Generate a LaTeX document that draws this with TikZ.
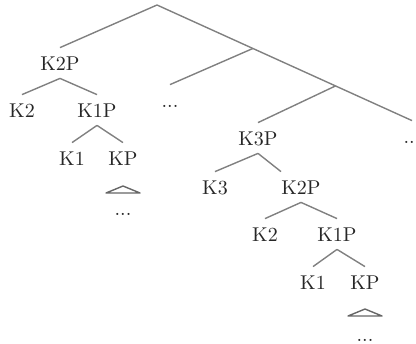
\documentclass[tikz,border=0pt]{standalone}
\usepackage{tikz}
\usetikzlibrary{calc}
\tikzstyle{cat}=[inner sep=4pt,text height=7pt,text depth=0pt,text=black!85]
\tikzstyle{branch}=[draw=black!50,line width=.7pt]
\tikzstyle{roof}=[draw=black!60,line width=.7pt,line join=round]

\begin{document}
\begin{tikzpicture}[x=.5pt,y=-.5pt,every edge/.style={branch}]
	\useasboundingbox (0,0) rectangle (416,343);
	\coordinate (top) at (157,5);
	% first K2P and what hangs under it
	\node[cat] (k2p) at (60,63) {K2P};
	\node[cat] (k2) at (22,110) {K2};
	\node[cat] (k1p) at (97,110) {K1P};
	\node[cat] (k1) at (72,158) {K1};
	\node[cat] (kp) at (123,158) {KP};
	\node[cat] (kpd) at ($(kp)+(0,50)$) {...};
	% the long spine to the right
	\node[cat] (sd) at (412,136) {...};
	\coordinate (m1) at ($(top)!.376!(sd.north)$);
	\coordinate (m2) at ($(top)!.70!(sd.north)$);
	\node[cat] (md) at (170,100) {...};
	\node[cat] (k3p) at (258,138) {K3P};
	\node[cat] (k3) at (215,187) {K3};
	\node[cat] (k2pb) at (301,187) {K2P};
	\node[cat] (k2b) at (265,234) {K2};
	\node[cat] (k1pb) at (337,234) {K1P};
	\node[cat] (k1b) at (313,282) {K1};
	\node[cat] (kpb) at (365,282) {KP};
	\node[cat] (kpbd) at ($(kpb)+(0,52)$) {...};
	\path
		(top)	edge	(k2p.north)
		(top)	edge	(sd.north)
		(m1)	edge	(md.north)
		(m2)	edge	(k3p.north)
		(k2p.south)	edge	(k2.north)
		(k2p.south)	edge	(k1p.north)
		(k1p.south)	edge	(k1.north)
		(k1p.south)	edge	(kp.north)
		(k3p.south)	edge	(k3.north)
		(k3p.south)	edge	([xshift=-10pt]k2pb.north)
		(k2pb.south)	edge	(k2b.north)
		(k2pb.south)	edge	(k1pb.north)
		(k1pb.south)	edge	(k1b.north)
		(k1pb.south)	edge	(kpb.north);
	% flat roofs over the elided parts
	\draw[roof] ($(kp)+(0,28)$) -- ++(17,7) -- ++(-34,0) -- cycle;
	\draw[roof] ($(kpb)+(0,27)$) -- ++(17,7) -- ++(-34,0) -- cycle;
\end{tikzpicture}
\end{document}
